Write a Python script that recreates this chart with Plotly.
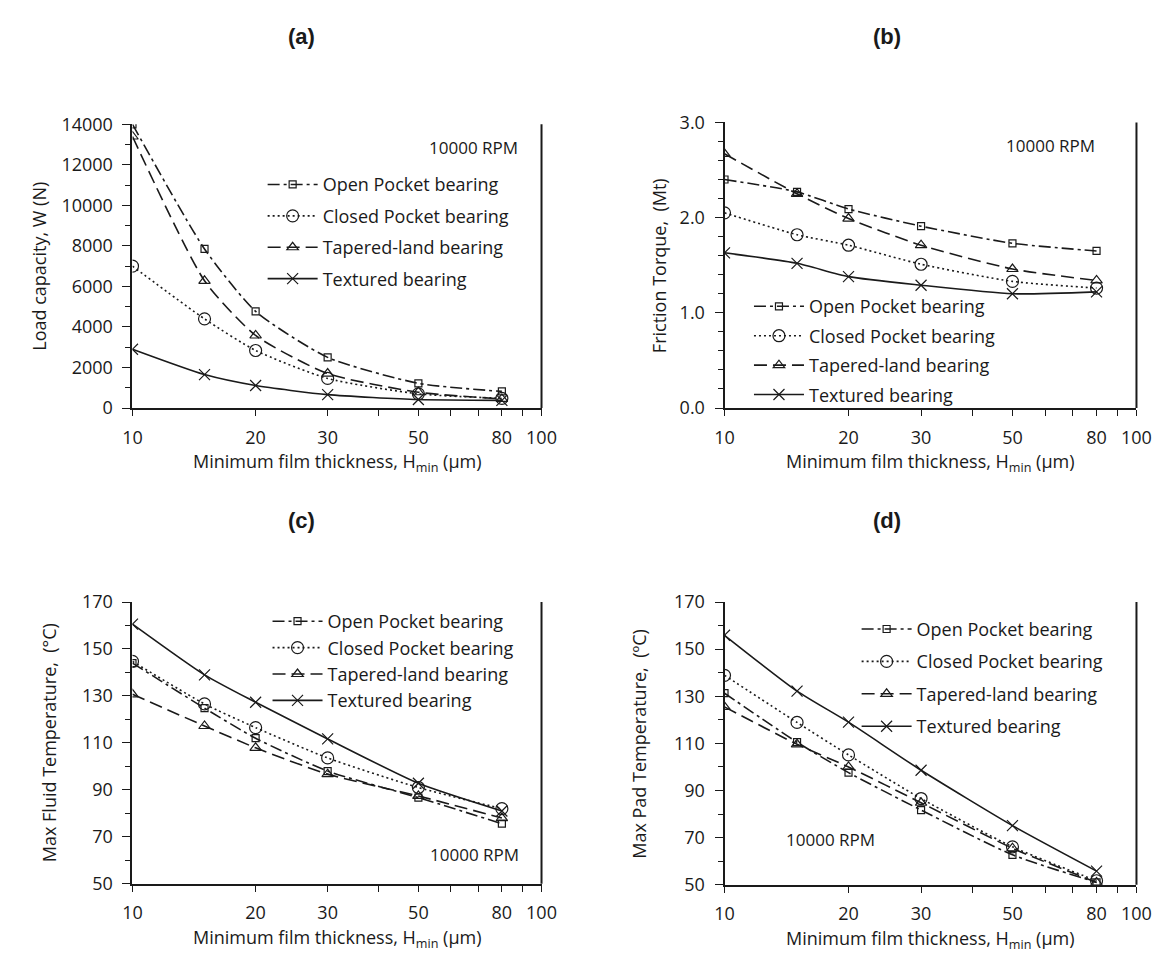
import plotly.graph_objects as go

# ---------------- data ----------------
h_min = [10, 15, 20, 30, 50, 80]
series_names = ["Open Pocket bearing", "Closed Pocket bearing", "Tapered-land bearing", "Textured bearing"]

load_open = [14000, 7850, 4770, 2500, 1220, 820]
load_closed = [7000, 4400, 2840, 1460, 700, 480]
load_tapered = [13400, 6280, 3580, 1700, 780, 450]
load_textured = [2900, 1650, 1110, 660, 420, 380]

torque_open = [2.40, 2.27, 2.09, 1.91, 1.73, 1.65]
torque_closed = [2.05, 1.82, 1.71, 1.51, 1.33, 1.26]
torque_tapered = [2.67, 2.25, 1.99, 1.71, 1.46, 1.34]
torque_textured = [1.63, 1.52, 1.38, 1.29, 1.20, 1.22]

fluid_open = [144.0, 124.8, 112.0, 98.0, 86.7, 75.6]
fluid_closed = [144.7, 126.6, 116.5, 103.6, 91.0, 82.0]
fluid_tapered = [130.7, 117.2, 107.9, 96.7, 87.4, 78.0]
fluid_textured = [160.6, 139.0, 127.3, 111.7, 92.8, 81.0]

pad_open = [131.3, 110.5, 97.6, 81.7, 62.7, 51.0]
pad_closed = [138.9, 118.9, 105.1, 86.6, 66.1, 51.7]
pad_tapered = [125.5, 109.6, 100.0, 84.8, 65.5, 51.0]
pad_textured = [155.9, 132.2, 119.0, 98.6, 75.1, 55.8]

x_tick_vals = [10, 20, 30, 50, 80, 100]
x_tick_text = ["10", "20", "30", "50", "80", "100"]
x_minor_vals = [40, 60, 70, 90]

# ---------------- layout helpers ----------------
W, H = 1165, 956
FONT = "Open Sans"
BLACK = "#1a1a1a"

def fx(px):
    return px / W

def fy(py):
    return 1 - py / H

panels = {
    "a": dict(x=(117, 535), y=(106, 397)),
    "b": dict(x=(722, 1143), y=(104, 397)),
    "c": dict(x=(117, 535), y=(596, 885)),
    "d": dict(x=(722, 1143), y=(596, 886)),
}

styles = [
    dict(dash="12px,4px,3px,4px", symbol="square-open", size=7),
    dict(dash="2px,3px", symbol="circle-open", size=12),
    dict(dash="13px,6px", symbol="triangle-up-open", size=10),
    dict(dash="solid", symbol="x-thin-open", size=11),
]

fig = go.Figure()

datasets = [
    ("a", [load_open, load_closed, load_tapered, load_textured], "legend"),
    ("b", [torque_open, torque_closed, torque_tapered, torque_textured], "legend2"),
    ("c", [fluid_open, fluid_closed, fluid_tapered, fluid_textured], "legend3"),
    ("d", [pad_open, pad_closed, pad_tapered, pad_textured], "legend4"),
]

axis_ids = {"a": ("x", "y"), "b": ("x2", "y2"), "c": ("x3", "y3"), "d": ("x4", "y4")}

for key, ys, leg in datasets:
    xa, ya = axis_ids[key]
    for i, (name, yv) in enumerate(zip(series_names, ys)):
        st = styles[i]
        fig.add_trace(go.Scatter(
            x=h_min, y=yv, name=name, mode="lines+markers",
            xaxis=xa, yaxis=ya, legend=leg, legendgroup=key + str(i),
            line=dict(color=BLACK, width=1.6, dash=st["dash"], shape="spline", smoothing=0.6),
            marker=dict(symbol=st["symbol"], size=st["size"], color=BLACK,
                        line=dict(color=BLACK, width=1.2)),
            cliponaxis=True,
        ))

y_specs = {
    "a": dict(range=[0, 14000], tickvals=list(range(0, 14001, 2000)), fmt="d", minor=1000),
    "b": dict(range=[0, 3], tickvals=[0, 1, 2, 3], fmt=".1f", minor=0.2),
    "c": dict(range=[50, 170], tickvals=list(range(50, 171, 20)), fmt="d", minor=10),
    "d": dict(range=[50, 170], tickvals=list(range(50, 171, 20)), fmt="d", minor=10),
}

layout_axes = {}
for key, (xa, ya) in axis_ids.items():
    p = panels[key]
    xname = "xaxis" if xa == "x" else "xaxis" + xa[1:]
    yname = "yaxis" if ya == "y" else "yaxis" + ya[1:]
    layout_axes[xname] = dict(
        type="log", range=[1, 2], domain=[fx(p["x"][0]), fx(p["x"][1])],
        anchor=ya, tickmode="array", tickvals=x_tick_vals, ticktext=x_tick_text,
        ticks="outside", ticklen=6, tickwidth=1.2, tickcolor=BLACK,
        minor=dict(tickmode="array", tickvals=x_minor_vals, ticks="outside", ticklen=6,
                   tickwidth=1.2, tickcolor=BLACK, showgrid=False),
        showline=True, linecolor=BLACK, linewidth=2, showgrid=False, zeroline=False,
        tickfont=dict(family=FONT, size=18, color=BLACK), ticklabelstandoff=6,
    )
    s = y_specs[key]
    layout_axes[yname] = dict(
        range=s["range"], domain=[fy(p["y"][1]), fy(p["y"][0])], anchor=xa,
        tickmode="array", tickvals=s["tickvals"], tickformat=s["fmt"],
        ticks="outside", ticklen=8, tickwidth=1.2, tickcolor=BLACK,
        minor=dict(dtick=s["minor"], ticks="outside", ticklen=5, tickwidth=1.2,
                   tickcolor=BLACK, showgrid=False),
        showline=True, linecolor=BLACK, linewidth=2, showgrid=False, zeroline=False,
        tickfont=dict(family=FONT, size=18, color=BLACK), ticklabelstandoff=6,
    )

# right border line of each plot area
shapes = []
for key, (xa, ya) in axis_ids.items():
    shapes.append(dict(type="line", xref=xa + " domain", yref=ya + " domain",
                       x0=1, x1=1, y0=0, y1=1, line=dict(color=BLACK, width=2)))

def legend_box(text_x, first_row_y, gap):
    return dict(
        x=fx(text_x - 60), y=fy(first_row_y - 18), xanchor="left", yanchor="top",
        bgcolor="rgba(0,0,0,0)", borderwidth=0, itemwidth=50, tracegroupgap=gap,
        font=dict(family=FONT, size=18, color=BLACK), traceorder="grouped",
    )

def note(text, px, py, size=18, family=FONT, angle=0):
    return dict(text=text, x=fx(px), y=fy(py), xref="paper", yref="paper",
                xanchor="center", yanchor="middle", textangle=angle, showarrow=False,
                font=dict(family=family, size=size, color=BLACK))

annotations = []
title_pos = {"a": (290, 16), "b": (888, 16), "c": (290, 512), "d": (888, 512)}
for key in "abcd":
    tx, ty = title_pos[key]
    annotations.append(note("<b>(%s)</b>" % key, tx, ty, size=22, family="Liberation Sans"))

xtitle = "Minimum film thickness, H<sub>min</sub> (µm)"
for key in "abcd":
    p = panels[key]
    cx = (p["x"][0] + p["x"][1]) / 2
    annotations.append(note(xtitle, cx, p["y"][1] + 56))

ytitles = [
    ("a", "Load capacity, W (N)", 22),
    ("b", "Friction Torque,\u00a0 (Mt)", 655),
    ("c", "Max Fluid Temperature,\u00a0 (°C)", 32),
    ("d", "Max Pad Temperature,\u00a0 (ºC)", 635),
]
for key, txt, xc in ytitles:
    p = panels[key]
    cy = (p["y"][0] + p["y"][1]) / 2
    annotations.append(note(txt, xc, cy, angle=-90))

rpm = [(465, 130), (1055, 128), (467, 855), (830, 840)]
for xc, yc in rpm:
    annotations.append(note("10000 RPM", xc, yc, size=17))

fig.update_layout(
    width=W, height=H, margin=dict(l=0, r=0, t=0, b=0),
    paper_bgcolor="white", plot_bgcolor="white",
    showlegend=True,
    legend=legend_box(310, 167, 5),
    legend2=legend_box(807, 292, 3),
    legend3=legend_box(315, 615, 0),
    legend4=legend_box(917, 623, 6),
    annotations=annotations, shapes=shapes,
    **layout_axes,
)

fig.write_html("out.html")
